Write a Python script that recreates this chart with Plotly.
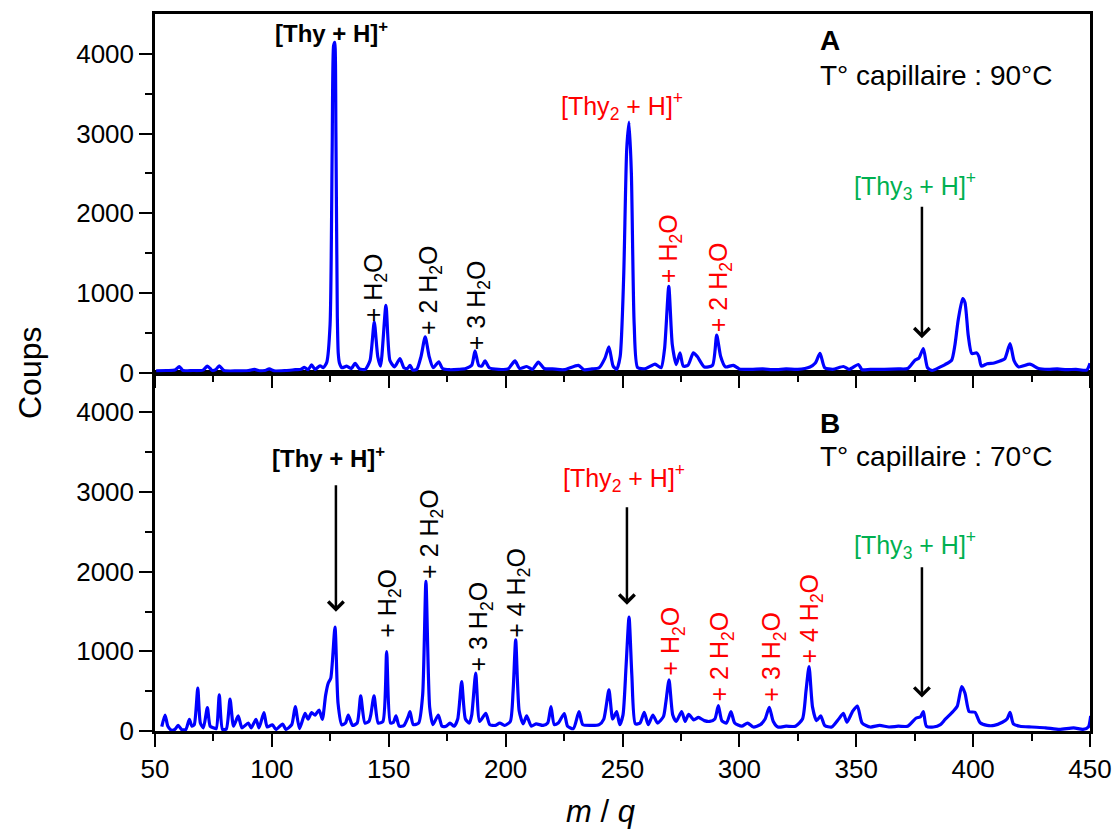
import plotly.graph_objects as go

# ---------------- data ----------------
# Panel A (T capillaire 90 C): m/q and counts
mz_a = [50.5, 55, 58.5, 60.4, 62, 66, 70.5, 72.4, 74.5, 76, 77.5, 79.5, 85, 90, 92.5, 95, 97, 98.9,
        101, 106, 110, 112.5, 113.9, 115.5, 117.0, 118.5, 120.6, 122, 123.5, 124.9, 125.8, 126.4,
        126.9, 127.4, 128.0, 128.4, 128.9, 130, 132, 134, 135.6, 137.5, 140, 142, 143.8, 145.3,
        146.5, 148.8, 150.5, 152.5, 154.8, 156.5, 158, 159.1, 160.3, 162, 163.8, 165.6, 167.3,
        169, 171.4, 173, 176, 180, 183, 185.5, 186.9, 188.5, 189.8, 191.2, 193, 197, 201, 204,
        206, 209, 211.5, 214, 216.5, 220, 225, 231.1, 233.5, 237, 240, 242.5, 244.2, 246, 247.5,
        249, 250.5, 251.8, 252.8, 253.8, 255, 256.5, 260, 263.9, 266.5, 268, 269.8, 271.3, 273,
        274.6, 276, 278, 280.3, 282, 285, 288.5, 290.3, 292, 294, 297.4, 300, 305, 310, 315, 320,
        325, 330.2, 332.5, 334.5, 336.5, 340, 344.5, 347, 350.9, 352.5, 356, 362, 368, 372, 375.1,
        376.8, 378.7, 380.5, 382.5, 386, 388, 390.8, 392.2, 393.6, 395.5, 396.5, 397.9, 399.4,
        401.5, 402.5, 403.5, 406, 409, 411.5, 413.5, 415.8, 417.5, 419.5, 424.3, 428, 432, 436,
        440, 444, 448.6, 450]
counts_a = [20, 25, 30, 75, 25, 25, 30, 80, 25, 35, 85, 25, 20, 25, 40, 20, 25, 45,
            20, 25, 35, 40, 65, 35, 95, 40, 85, 60, 130, 600, 2800, 4100,
            4145, 3000, 700, 240, 120, 60, 80, 50, 115, 45, 40, 150, 635, 200,
            80, 844, 150, 70, 175, 60, 50, 90, 30, 40, 200, 447, 200,
            60, 133, 50, 35, 40, 50, 90, 271, 90, 80, 145, 60, 40, 45, 145,
            50, 75, 40, 130, 50, 45, 35, 90, 35, 45, 60, 180, 321, 80, 40,
            200, 1200, 2800, 3142, 2500, 600, 60, 50, 105, 60, 300, 1082, 350, 100,
            246, 80, 90, 246, 200, 70, 90, 468, 200, 70, 90, 45, 40, 45, 35, 45,
            40, 70, 120, 240, 60, 40, 75, 40, 100, 35, 40, 40, 45, 50, 154,
            180, 300, 60, 25, 70, 100, 154, 342, 656, 928, 880, 468, 238,
            246, 200, 80, 110, 120, 145, 170, 363, 150, 70, 105, 50, 40, 45,
            35, 40, 30, 115]

# Panel B (T capillaire 70 C): m/q and counts
mz_b = [52.9, 54.3, 55.5, 57.1, 58.5, 59.9, 61.5, 63.2, 64.7, 65.8, 66.8, 68.3, 69.4, 70.7, 72.4,
        73.6, 75.0, 76.2, 77.5, 78.9, 80.5, 82.1, 83.6, 85.6, 87.2, 89.9, 91.2, 93.2, 94.5, 96.6,
        98, 100.2, 101.8, 104.6, 106.0, 108.5, 110.0, 111.8, 114.2, 115.5, 117.0, 118.5, 120.2,
        121.6, 123.0, 124.1, 125.2, 127.0, 128.3, 129.9, 131.5, 132.7, 134.5, 136.5, 138.0,
        139.8, 141.5, 142.3, 143.7, 145.5, 147.5, 149.1, 150.7, 152, 153.1, 154.5, 156.5, 158.3,
        159.1, 160.5, 162.8, 164.5, 165.9, 167.5, 168.9, 171.2, 172.8, 174.5, 176.2, 178, 179.5,
        181.2, 182.8, 184.5, 185.5, 187.2, 188.9, 191.5, 193.2, 195.5, 197.5, 199.5, 202, 203.2,
        204.3, 205.8, 207.5, 209.0, 211, 213, 216, 218, 219.4, 220.8, 222.5, 225.1, 226.5, 229,
        231.4, 233, 237, 240, 242, 244.2, 245.8, 247.5, 248.8, 250.2, 251.5, 252.8, 254, 255.5,
        257.5, 259.3, 261, 263, 265, 267.5, 268.5, 269.9, 271.5, 273, 275.3, 276.8, 278.3, 280.5,
        282.5, 285, 287.3, 289.5, 291.0, 292.5, 294.5, 296.4, 298, 301, 303.5, 306, 309, 311,
        312.8, 314.5, 316.5, 320, 324, 327, 328.5, 329.8, 331.3, 333, 334.8, 336.5, 339.5, 342.5,
        344.5, 346, 348.5, 350.5, 352.5, 356, 360, 364, 368, 372, 375.5, 377.5, 378.7, 380, 383,
        386, 388.0, 391.5, 393.2, 395.1, 396.5, 398.3, 400.8, 403, 406, 409, 412.5, 414.5, 415.8,
        417.2, 420, 425, 431, 437, 443, 447, 449.3, 450.3]
counts_b = [55, 201, 60, 10, 20, 70, 15, 20, 147, 60, 80, 537, 100, 40, 293,
            60, 40, 30, 453, 20, 25, 399, 60, 189, 40, 98, 40, 147, 40, 231,
            50, 78, 20, 88, 20, 80, 306, 30, 220, 150, 231, 200, 264,
            147, 450, 600, 663, 1304, 350, 78, 100, 201, 70, 100, 440,
            100, 120, 200, 440, 100, 120, 998, 100, 110, 189, 60, 70, 180,
            243, 80, 100, 450, 1878, 300, 80, 201, 60, 60, 98, 60, 150,
            620, 150, 100, 200, 726, 120, 222, 80, 70, 100, 70, 120, 500,
            1145, 250, 90, 189, 60, 90, 70, 100, 306, 80, 100, 218, 60, 30,
            243, 80, 70, 80, 150, 516, 150, 243, 80, 200, 800, 1430, 700, 90,
            100, 235, 80, 200, 100, 180, 350, 642, 200, 120, 243, 120, 210, 140,
            170, 130, 120, 150, 318, 130, 100, 243, 100, 60, 100, 50, 80, 150,
            298, 120, 50, 60, 60, 150, 500, 809, 300, 130, 189, 70, 50, 150,
            222, 110, 250, 314, 100, 50, 70, 50, 60, 60, 160, 180, 243, 60, 50,
            80, 145, 248, 311, 558, 478, 243, 235, 103, 70, 70, 110, 150, 235,
            90, 60, 50, 40, 20, 40, 20, 50, 189]

x_ticks = [50, 100, 150, 200, 250, 300, 350, 400, 450]
y_ticks = [0, 1000, 2000, 3000, 4000]
y_minor = [500, 1500, 2500, 3500]

# ---------------- figure ----------------
FONT = "Liberation Sans, Arial, sans-serif"
BLUE = "#0000FF"
RED = "#FF0000"
GREEN = "#00B050"

fig = go.Figure()
fig.add_trace(go.Scatter(x=mz_a, y=counts_a, xaxis="x2", yaxis="y2", mode="lines",
                         line=dict(color=BLUE, width=3.2, shape="spline", smoothing=0.6),
                         showlegend=False, hoverinfo="skip"))
fig.add_trace(go.Scatter(x=mz_b, y=counts_b, xaxis="x", yaxis="y", mode="lines",
                         line=dict(color=BLUE, width=3.2, shape="spline", smoothing=0.6),
                         showlegend=False, hoverinfo="skip"))

yax = dict(range=[0, 4500], tickvals=y_ticks, ticks="outside", ticklen=13, tickwidth=2,
           tickcolor="black", showline=True, linewidth=2.5, linecolor="black", mirror=True,
           showgrid=False, zeroline=False, automargin=False,
           minor=dict(tickvals=y_minor, ticks="outside", ticklen=7, tickwidth=2, tickcolor="black"),
           tickfont=dict(family=FONT, size=26, color="black"))
xax = dict(range=[50, 450], tickvals=x_ticks, ticks="outside", ticklen=13, tickwidth=2,
           tickcolor="black", showline=True, linewidth=2.5, linecolor="black", mirror=True,
           showgrid=False, zeroline=False, automargin=False,
           minor=dict(dtick=25, tick0=50, ticks="outside", ticklen=7, tickwidth=2, tickcolor="black"),
           tickfont=dict(family=FONT, size=26, color="black"))

fig.update_layout(
    width=1115, height=832,
    margin=dict(l=155, r=25, t=14, b=101),
    paper_bgcolor="white", plot_bgcolor="white",
    xaxis=dict(**xax, anchor="y", domain=[0, 1]),
    xaxis2=dict(**{k: v for k, v in xax.items() if k != "tickfont"}, anchor="y2",
                matches="x", showticklabels=False),
    xaxis3=dict(range=[50, 450], overlaying="x2", anchor="y2", side="top",
                tickmode="linear", tick0=50, dtick=25, ticks="inside", ticklen=4,
                tickwidth=2, tickcolor="black", showticklabels=False, showline=False,
                showgrid=False, zeroline=False),
    yaxis=dict(**yax, anchor="x", domain=[0, 0.5]),
    yaxis2=dict(**yax, anchor="x2", domain=[0.5, 1]),
)

ann = []

def label(x, y, text, xa, ya, color="black", size=25, angle=0, xanchor="center", bold=False):
    t = "<b>%s</b>" % text if bold else text
    ann.append(dict(x=x, y=y, xref=xa, yref=ya, text=t, showarrow=False, textangle=angle,
                    xanchor=xanchor, yanchor="middle",
                    font=dict(family=FONT, size=size, color=color)))

def arrow(x, y_tail, y_head, xa, ya):
    ann.append(dict(x=x, y=y_head, ax=x, ay=y_tail, xref=xa, yref=ya, axref=xa, ayref=ya,
                    text="", showarrow=True, arrowhead=4, arrowsize=1.2, arrowwidth=2.5,
                    arrowcolor="black", standoff=0))

THY = "[Thy + H]<sup>+</sup>"
THY2 = "[Thy<sub>2</sub> + H]<sup>+</sup>"
THY3 = "[Thy<sub>3</sub> + H]<sup>+</sup>"
W1 = "+ H<sub>2</sub>O"
W2 = "+ 2 H<sub>2</sub>O"
W3 = "+ 3 H<sub>2</sub>O"
W4 = "+ 4 H<sub>2</sub>O"

# Panel A
label(125.3, 4270, THY, "x2", "y2", bold=True, size=24)
label(144.1, 1070, W1, "x2", "y2", angle=-90)
label(167.6, 1033, W2, "x2", "y2", angle=-90)
label(188.2, 845, W3, "x2", "y2", angle=-90)
label(249.8, 3341, THY2, "x2", "y2", color=RED)
label(270.3, 1560, W1, "x2", "y2", color=RED, angle=-90)
label(291.7, 1070, W2, "x2", "y2", color=RED, angle=-90)
label(375.1, 2338, THY3, "x2", "y2", color=GREEN)
arrow(378.1, 2100, 430, "x2", "y2")
label(333.6, 4170, "A", "x2", "y2", bold=True, size=28, xanchor="left")
label(333.6, 3730, "T° capillaire : 90°C", "x2", "y2", size=28, xanchor="left")

# Panel B
label(124.4, 3440, THY, "x", "y", bold=True, size=24)
arrow(127.4, 3102, 1497, "x", "y")
label(150.1, 1610, W1, "x", "y", angle=-90)
label(168.1, 2475, W2, "x", "y", angle=-90)
label(189.0, 1310, W3, "x", "y", angle=-90)
label(205.3, 1735, W4, "x", "y", angle=-90)
label(250.6, 3177, THY2, "x", "y", color=RED)
arrow(251.9, 2826, 1585, "x", "y")
label(271.2, 1122, W1, "x", "y", color=RED, angle=-90)
label(292.1, 934, W2, "x", "y", color=RED, angle=-90)
label(314.4, 934, W3, "x", "y", color=RED, angle=-90)
label(330.6, 1410, W4, "x", "y", color=RED, angle=-90)
label(375.1, 2337, THY3, "x", "y", color=GREEN)
arrow(378.1, 2074, 420, "x", "y")
label(333.6, 3866, "B", "x", "y", bold=True, size=28, xanchor="left")
label(333.6, 3440, "T° capillaire : 70°C", "x", "y", size=28, xanchor="left")

# Axis titles
ann.append(dict(x=-0.1337, y=0.5007, xref="paper", yref="paper", text="Coups", showarrow=False,
                textangle=-90, xanchor="center", yanchor="middle",
                font=dict(family=FONT, size=32, color="black")))
ann.append(dict(x=0.477, y=-0.112, xref="paper", yref="paper", text="<i>m</i> / <i>q</i>",
                showarrow=False, xanchor="center", yanchor="middle",
                font=dict(family=FONT, size=31, color="black")))

fig.update_layout(annotations=ann)
fig.write_html("out.html", post_script="document.body.style.margin='0px';",
               config={"displayModeBar": False})
